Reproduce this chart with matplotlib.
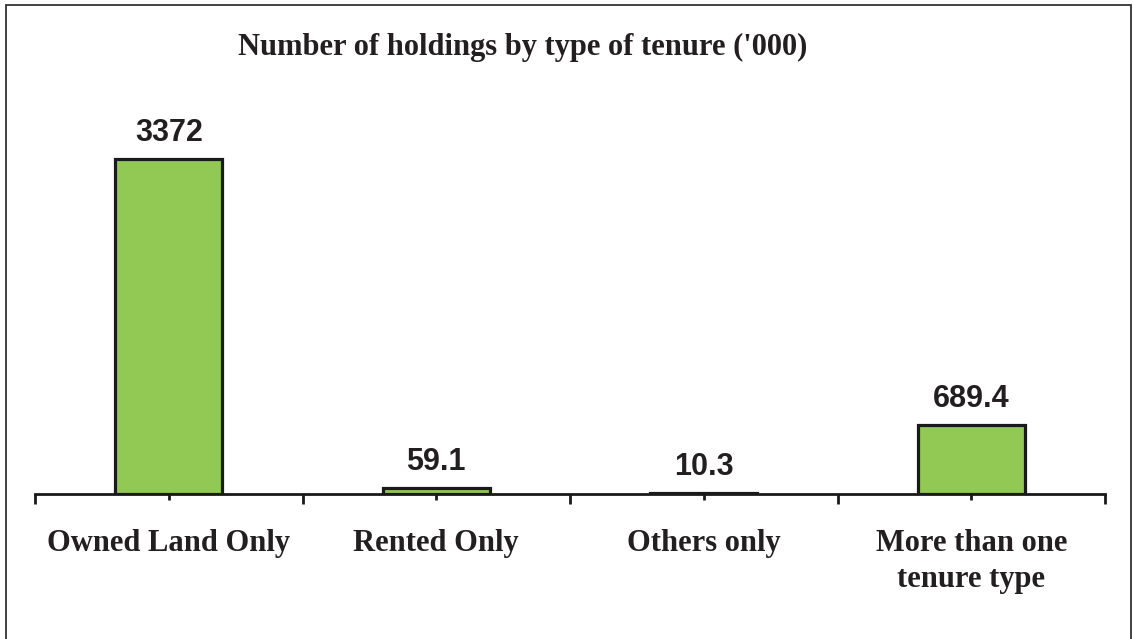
import matplotlib.pyplot as plt
from matplotlib.patches import Rectangle

# data
categories = ['Owned Land Only', 'Rented Only', 'Others only', 'More than one\ntenure type']
values = [3372, 59.1, 10.3, 689.4]
value_labels = ['3372', '59.1', '10.3', '689.4']

fig = plt.figure(figsize=(11.33, 6.39), dpi=100)
ax = fig.add_axes([35 / 1133, 145 / 639, 1070 / 1133, 397.6 / 639])

x = list(range(len(categories)))
ax.bar(x, values, width=0.4, color='#92c955', edgecolor='#1a1a1a', linewidth=2.3, zorder=3)

for xi, v, lab in zip(x, values, value_labels):
    ax.annotate(lab, (xi, v), xytext=(0, 8), textcoords='offset points',
                ha='center', va='bottom', fontsize=22, fontweight='bold',
                family='Liberation Sans', color='#231f20')

ax.set_xlim(-0.5, 3.5)
ax.set_ylim(0, 4000)
for s in ['top', 'right', 'left']:
    ax.spines[s].set_visible(False)
ax.spines['bottom'].set_linewidth(2)
ax.spines['bottom'].set_color('#1a1a1a')
ax.set_yticks([])

# boundary ticks long, centre ticks short with labels
ax.set_xticks([-0.5, 0.5, 1.5, 2.5, 3.5])
ax.set_xticklabels([])
ax.set_xticks(x, minor=True)
ax.set_xticklabels(categories, minor=True, fontsize=22, fontweight='bold',
                   family='Liberation Serif', color='#231f20', linespacing=1.35)
ax.tick_params(axis='x', which='major', length=7, width=2, color='#1a1a1a')
ax.tick_params(axis='x', which='minor', length=4, width=2, color='#1a1a1a', pad=21)

fig.text(523 / 1133, 1 - 47 / 639, "Number of holdings by type of tenure ('000)",
         ha='center', va='center', fontsize=22, fontweight='bold',
         family='Liberation Serif', color='#231f20')

# outer frame
fig.patches.append(Rectangle((6 / 1133, -0.05), 1125 / 1133, 1.05 - 5 / 639,
                             transform=fig.transFigure, fill=False,
                             edgecolor='#333333', linewidth=1.3))

fig.savefig('out.png', dpi=100)
